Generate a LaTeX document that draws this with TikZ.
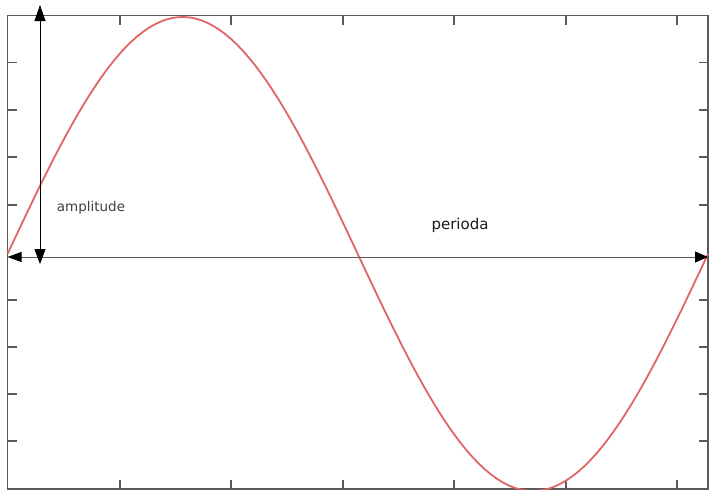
\documentclass[tikz,border=0pt]{standalone}
\usepackage{fontspec}
\setmainfont{DejaVu Sans}
\usepackage{tikz}
\usetikzlibrary{arrows, arrows.meta}

\definecolor{framegray}{HTML}{5A5A5A}
\definecolor{wavered}{HTML}{E06666}

\begin{document}
\begin{tikzpicture}[x=1pt, y=-1pt]
  \useasboundingbox (0,0) rectangle (710,490);
  % Coordinates
  \coordinate (TL) at (7.5, 15.5);
  \coordinate (BR) at (708, 489);
  \coordinate (A) at (7.5, 257);
  \coordinate (B) at (708, 257);
  \coordinate (C) at (40, 5);
  \coordinate (D) at (40, 264);

  % Frame and ticks
  \draw[framegray, line width=1.6pt] (TL) rectangle (BR);
  \foreach \ty in {62.5, 110, 157, 205, 300, 347, 394, 441} {
    \draw[framegray, line width=1.6pt] (7.5, \ty) -- (17, \ty);
    \draw[framegray, line width=1.6pt] (708, \ty) -- (698.5, \ty);
  }
  \foreach \tx in {120, 231, 343, 454, 566, 677} {
    \draw[framegray, line width=1.6pt] (\tx, 489) -- (\tx, 479.5);
    \draw[framegray, line width=1.6pt] (\tx, 15.5) -- (\tx, 25);
  }

  % Wave
  \draw[wavered, line width=1.8pt, domain=0:360, samples=120]
    plot ({7.5 + \x/360*700.5}, {254 - 237*sin(\x)});

  % Drawing
  \draw[framegray, line width=0.9pt, {Triangle[length=14pt, width=10pt, color=black]}-{Triangle[length=13pt, width=11pt, color=black]}] (A) -- (B);
  \draw[black, line width=0.8pt, {Triangle[length=16pt, width=11pt]}-{Triangle[length=15pt, width=11pt]}] (C) -- (D);

  % Labels
  \node[text=black!75, font=\fontsize{13.5}{15}\selectfont] (amp) at (91, 208) {amplitude};
  \node[text=black!90, font=\fontsize{15}{17}\selectfont] (per) at (460, 225) {perioda};
\end{tikzpicture}
\end{document}
